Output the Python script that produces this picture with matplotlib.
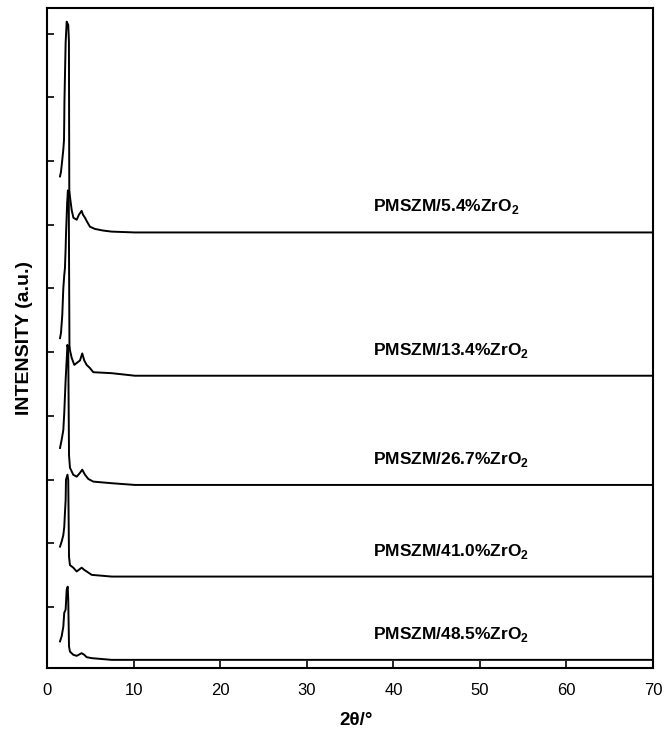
import numpy as np
import matplotlib
matplotlib.use("Agg")
import matplotlib.pyplot as plt

plt.rcParams['font.family'] = ['Liberation Sans', 'DejaVu Sans']
plt.rcParams['mathtext.fontset'] = 'custom'
plt.rcParams['mathtext.rm'] = 'Liberation Sans:bold'
plt.rcParams['mathtext.bf'] = 'Liberation Sans:bold'

# sample names (top to bottom)
labels = ["PMSZM/5.4%ZrO$_2$", "PMSZM/13.4%ZrO$_2$", "PMSZM/26.7%ZrO$_2$",
          "PMSZM/41.0%ZrO$_2$", "PMSZM/48.5%ZrO$_2$"]

# vertical offset of each pattern (a.u.)
offsets = [6.88, 4.63, 2.915, 1.476, 0.168]

# 2theta / intensity (intensity relative to own baseline)
tt1 = [1.45, 1.56, 1.71, 1.83, 1.91, 1.94, 1.96, 2.10, 2.22, 2.40, 2.48, 2.52, 2.60, 2.80,
       3.00, 3.38, 3.64, 3.95, 4.10, 4.34, 4.57, 4.91, 5.49, 6.42, 7.42, 10.1, 70.0]
I1 = [0.88, 0.95, 1.14, 1.30, 1.45, 1.77, 2.05, 2.98, 3.31, 3.26, 3.00, 0.67, 0.56, 0.35,
      0.23, 0.20, 0.28, 0.34, 0.28, 0.23, 0.17, 0.09, 0.055, 0.03, 0.013, 0.0, 0.0]

tt2 = [1.45, 1.56, 1.71, 1.83, 1.94, 2.02, 2.10, 2.14, 2.27, 2.36, 2.46, 2.54, 2.60, 2.80,
       3.10, 3.38, 3.76, 4.02, 4.25, 4.53, 4.91, 5.30, 7.42, 10.1, 70.0]
I2 = [0.59, 0.67, 0.95, 1.37, 1.58, 1.69, 2.00, 2.21, 2.70, 2.91, 2.80, 0.48, 0.40, 0.28,
      0.17, 0.20, 0.24, 0.35, 0.24, 0.17, 0.12, 0.055, 0.04, 0.0, 0.0]

tt3 = [1.45, 1.64, 1.83, 1.94, 2.10, 2.31, 2.40, 2.49, 2.60, 2.98, 3.38, 3.76, 4.02, 4.34,
       4.72, 5.30, 7.42, 10.1, 70.0]
I3 = [0.58, 0.71, 0.86, 1.13, 1.65, 2.20, 2.12, 0.47, 0.27, 0.16, 0.13, 0.19, 0.24, 0.16,
      0.094, 0.052, 0.027, 0.0, 0.0]

tt4 = [1.45, 1.64, 1.83, 1.94, 2.02, 2.10, 2.14, 2.31, 2.40, 2.49, 2.60, 2.98, 3.38, 3.95,
       4.25, 4.53, 5.11, 7.42, 70.0]
I4 = [0.47, 0.55, 0.65, 0.78, 1.00, 1.20, 1.52, 1.60, 1.52, 0.31, 0.18, 0.14, 0.08, 0.14,
      0.105, 0.08, 0.027, 0.0, 0.0]

tt5 = [1.45, 1.64, 1.83, 1.94, 2.10, 2.22, 2.34, 2.40, 2.49, 2.60, 2.98, 3.38, 3.95, 4.25,
       4.53, 5.11, 7.42, 70.0]
I5 = [0.29, 0.37, 0.52, 0.74, 0.79, 1.10, 1.15, 0.94, 0.21, 0.13, 0.08, 0.063, 0.105, 0.08,
      0.042, 0.027, 0.0, 0.0]

xticks = [0, 10, 20, 30, 40, 50, 60, 70]
yticks = [1, 2, 3, 4, 5, 6, 7, 8, 9, 10]

patterns = [(tt1, I1), (tt2, I2), (tt3, I3), (tt4, I4), (tt5, I5)]

fig = plt.figure(figsize=(6.64, 7.34), dpi=100)
ax = fig.add_axes([0.0715, 0.0899, 0.9119, 0.8988])

for (tt, inten), off, lab in zip(patterns, offsets, labels):
    ax.plot(tt, np.array(inten) + off, color='black', lw=1.4)
    ax.text(37.6, off + 0.4, lab, fontsize=12.5, fontweight='bold', va='center', ha='left')

ax.set_xlim(0, 70)
ax.set_ylim(0.04, 10.40)
ax.set_xticks(xticks)
ax.set_yticks(yticks)
ax.set_yticklabels([])
ax.tick_params(axis='both', direction='in', length=5, width=1.2, labelsize=12)
ax.tick_params(axis='x', pad=11)
for sp in ax.spines.values():
    sp.set_linewidth(1.5)

ax.set_xlabel("2θ/°", fontsize=13.5, fontweight='bold')
ax.xaxis.set_label_coords(0.51, -0.066)
ax.set_ylabel("INTENSITY (a.u.)", fontsize=14, fontweight='bold')
ax.yaxis.set_label_coords(-0.024, 0.5)

fig.savefig("out.png", dpi=100)
